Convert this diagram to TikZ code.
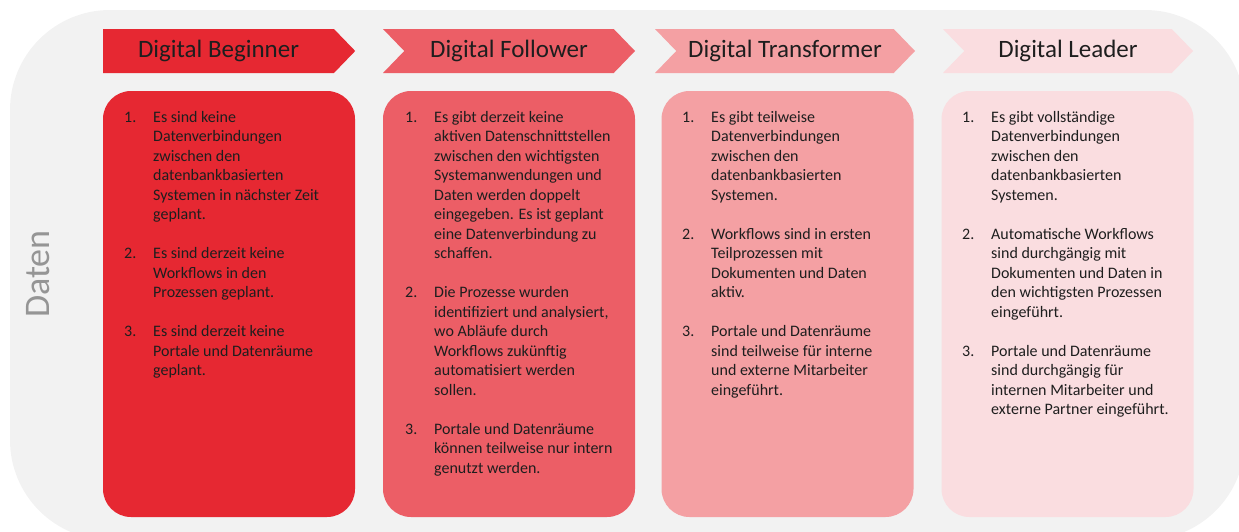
\documentclass[tikz,border=0pt]{standalone}
\usepackage{fontspec}
\setmainfont{Carlito}
\usetikzlibrary{shapes.symbols}

\definecolor{panelgrey}{HTML}{F2F2F2}
\definecolor{lvlA}{HTML}{E62832}
\definecolor{lvlB}{HTML}{EC5E66}
\definecolor{lvlC}{HTML}{F4A0A3}
\definecolor{lvlD}{HTML}{FADDE0}
\definecolor{ink}{HTML}{1E1E1E}
\definecolor{sidegrey}{HTML}{959595}

\tikzset{
  stage/.style={shape=signal, signal to=east, signal pointer angle=92,
    minimum width=252pt, minimum height=44pt, inner sep=0pt, draw=none,
    font=\fontsize{25}{30}\selectfont, text=ink},
  card/.style={rectangle, rounded corners=28pt, minimum width=252pt,
    minimum height=426pt, inner sep=0pt, draw=none},
  cardtext/.style={anchor=base west, inner sep=0pt, text=ink,
    font=\fontsize{16}{19.5}\selectfont, align=left}
}

\newcommand{\itemtab}[1]{\begin{tabular}[t]{@{}p{29pt}@{}l@{}}#1\end{tabular}}

\begin{document}
\begin{tikzpicture}[x=1pt,y=-1pt]
  \useasboundingbox (0,0) rectangle (1239,531);

  % grey backdrop panel
  \fill[panelgrey, rounded corners=100pt] (10,10) rectangle (1245,540);

  % side label
  \node[rotate=90, text=sidegrey, font=\fontsize{36}{40}\selectfont, inner sep=0pt]
    (side) at (38,274) {Daten};

  % stage headers
  \node[stage, fill=lvlA, anchor=west] (h1) at (103,51) {Digital Beginner};
  \node[stage, fill=lvlB, signal from=west] (h2) at (509,51) {Digital Follower};
  \node[stage, fill=lvlC, signal from=west, minimum width=260pt] (h3) at (785,51) {Digital Transformer};
  \node[stage, fill=lvlD, signal from=west, minimum width=250pt] (h4) at (1068,51) {Digital Leader};

  % content cards
  \node[card, fill=lvlA] (c1) at (229,304) {};
  \node[card, fill=lvlB] (c2) at (509,304) {};
  \node[card, fill=lvlC] (c3) at (787.5,304) {};
  \node[card, fill=lvlD] (c4) at (1067.5,304) {};

  \node[cardtext] (t1) at (124,122) {\itemtab{%
    1. & Es sind keine\\
       & Datenverbindungen\\
       & zwischen den\\
       & datenbankbasierten\\
       & Systemen in nächster Zeit\\
       & geplant.\\
       & \\
    2. & Es sind derzeit keine\\
       & Workflows in den\\
       & Prozessen geplant.\\
       & \\
    3. & Es sind derzeit keine\\
       & Portale und Datenräume\\
       & geplant.}};

  \node[cardtext] (t2) at (405,122) {\itemtab{%
    1. & Es gibt derzeit keine\\
       & aktiven Datenschnittstellen\\
       & zwischen den wichtigsten\\
       & Systemanwendungen und\\
       & Daten werden doppelt\\
       & eingegeben. Es ist geplant\\
       & eine Datenverbindung zu\\
       & schaffen.\\
       & \\
    2. & Die Prozesse wurden\\
       & identifiziert und analysiert,\\
       & wo Abläufe durch\\
       & Workflows zukünftig\\
       & automatisiert werden\\
       & sollen.\\
       & \\
    3. & Portale und Datenräume\\
       & können teilweise nur intern\\
       & genutzt werden.}};

  \node[cardtext] (t3) at (682,122) {\itemtab{%
    1. & Es gibt teilweise\\
       & Datenverbindungen\\
       & zwischen den\\
       & datenbankbasierten\\
       & Systemen.\\
       & \\
    2. & Workflows sind in ersten\\
       & Teilprozessen mit\\
       & Dokumenten und Daten\\
       & aktiv.\\
       & \\
    3. & Portale und Datenräume\\
       & sind teilweise für interne\\
       & und externe Mitarbeiter\\
       & eingeführt.}};

  \node[cardtext] (t4) at (962,122) {\itemtab{%
    1. & Es gibt vollständige\\
       & Datenverbindungen\\
       & zwischen den\\
       & datenbankbasierten\\
       & Systemen.\\
       & \\
    2. & Automatische Workflows\\
       & sind durchgängig mit\\
       & Dokumenten und Daten in\\
       & den wichtigsten Prozessen\\
       & eingeführt.\\
       & \\
    3. & Portale und Datenräume\\
       & sind durchgängig für\\
       & internen Mitarbeiter und\\
       & externe Partner eingeführt.}};
\end{tikzpicture}
\end{document}
